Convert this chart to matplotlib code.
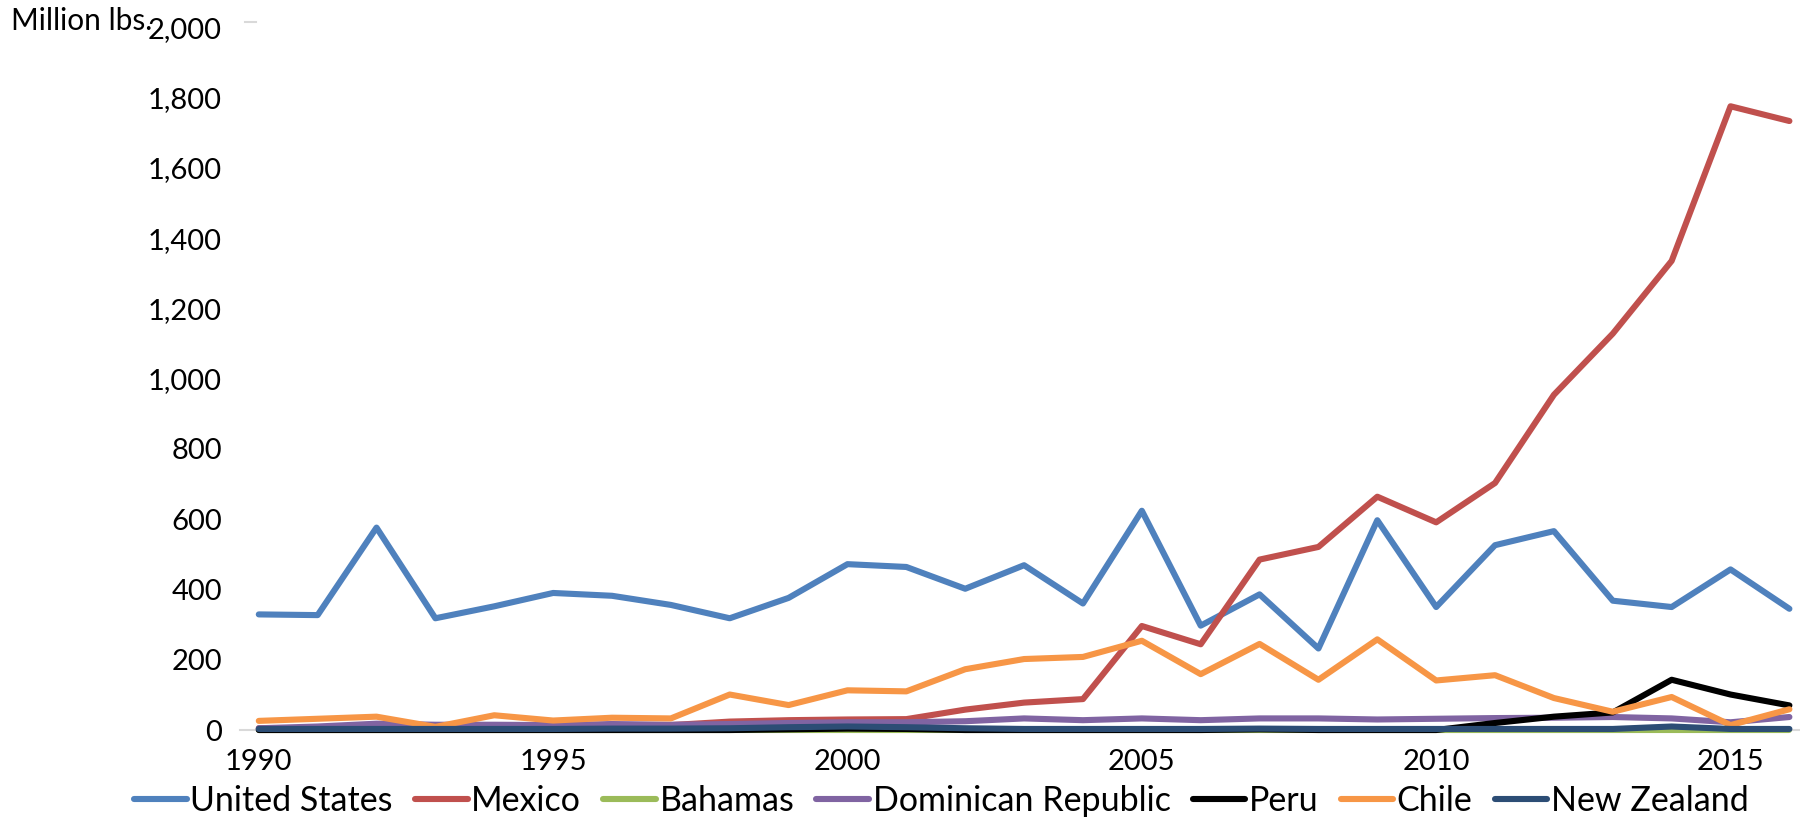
import matplotlib

matplotlib.use("Agg")
import matplotlib.pyplot as plt
from matplotlib.ticker import FuncFormatter

plt.rcParams["font.family"] = ["Lato", "DejaVu Sans"]

years = list(range(1990, 2017))

united_states = [329, 327, 576, 318, 352, 390, 382, 356, 318, 376, 472, 464, 402, 469, 360,
                 624, 297, 386, 232, 597, 350, 526, 566, 368, 350, 457, 345]
mexico = [5, 6, 8, 8, 10, 12, 12, 14, 24, 28, 30, 31, 58, 78, 88,
          296, 244, 485, 521, 664, 591, 703, 954, 1128, 1335, 1775, 1733]
bahamas = [0] * 27
dominican_republic = [5, 10, 18, 15, 15, 14, 17, 15, 17, 20, 22, 22, 25, 33, 28,
                      33, 28, 33, 33, 30, 32, 34, 35, 37, 33, 22, 37]
peru = [0, 0, 0, 0, 0, 0, 0, 0, 0, 2, 4, 3, 0, 0, 0,
        0, 0, 2, 0, 0, 0, 20, 38, 50, 143, 101, 70]
chile = [26, 32, 38, 9, 42, 27, 35, 33, 101, 71, 113, 110, 173, 202, 208,
         254, 159, 245, 143, 258, 141, 156, 91, 52, 94, 14, 59]
new_zealand = [3, 3, 3, 3, 3, 3, 4, 4, 5, 8, 10, 8, 5, 3, 3,
               3, 3, 4, 3, 3, 3, 3, 3, 3, 10, 3, 3]

series = [
    ("United States", united_states, "#4F81BD"),
    ("Mexico", mexico, "#C0504D"),
    ("Bahamas", bahamas, "#9BBB59"),
    ("Dominican Republic", dominican_republic, "#8064A2"),
    ("Peru", peru, "#000000"),
    ("Chile", chile, "#F79646"),
    ("New Zealand", new_zealand, "#2C4D75"),
]

fig = plt.figure(figsize=(18, 8.22), dpi=100)
ax = fig.add_axes([0.1333, 0.1119, 0.8667, 0.855])

for name, vals, color in series:
    ax.plot(years, vals, color=color, lw=4.4, label=name, clip_on=False,
            solid_joinstyle="round", solid_capstyle="round")

ax.set_xlim(1989.68, 2016.18)
ax.set_ylim(0, 2000)
ax.set_xticks(range(1990, 2016, 5))
ax.set_yticks(range(0, 2001, 200))
ax.yaxis.set_major_formatter(FuncFormatter(lambda v, _: f"{int(v):,}"))
ax.tick_params(axis="both", length=0, labelsize=21)
ax.tick_params(axis="y", pad=13)
ax.tick_params(axis="x", pad=14)

for side in ("top", "right", "left"):
    ax.spines[side].set_visible(False)
ax.spines["bottom"].set_color("#D9D9D9")
ax.spines["bottom"].set_linewidth(1.5)
ax.spines["bottom"].set_zorder(0)

fig.text(0.006, 0.975, "Million lbs.", fontsize=21.5, ha="left", va="center")
fig.add_artist(plt.Line2D([0.136, 0.142], [0.973, 0.973], color="#D9D9D9", lw=1.5))

fig.legend(loc="center", bbox_to_anchor=(0.523, 0.026), ncol=7, frameon=False,
           fontsize=24.5, handlelength=1.55, handletextpad=0.1, columnspacing=0.65,
           borderaxespad=0)

fig.savefig("out.png", dpi=100)
